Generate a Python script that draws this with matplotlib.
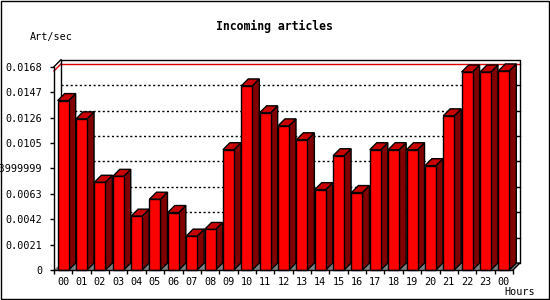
import matplotlib
matplotlib.use("Agg")
import matplotlib.pyplot as plt
from matplotlib.patches import Polygon, Rectangle
from matplotlib.lines import Line2D
import numpy as np

hours = ["00", "01", "02", "03", "04", "05", "06", "07", "08", "09", "10", "11",
         "12", "13", "14", "15", "16", "17", "18", "19", "20", "21", "22", "23", "00"]
values = [0.0140, 0.01249, 0.00725, 0.00774, 0.00445, 0.00585, 0.00475, 0.0028,
          0.00335, 0.00994, 0.01521, 0.01299, 0.01191, 0.01076, 0.00664, 0.00944,
          0.0064, 0.00994, 0.00994, 0.00994, 0.00862, 0.01274, 0.01636, 0.01636,
          0.01645]
ytick_vals = [0, 0.0021, 0.0042, 0.0063, 0.0084, 0.0105, 0.0126, 0.0147, 0.0168]
ytick_labels = ["0", "0.0021", "0.0042", "0.0063", "0.0083999999", "0.0105",
                "0.0126", "0.0147", "0.0168"]
title = "Incoming articles"
ylabel = "Art/sec"
xlabel = "Hours"

W, H = 550, 300
fig = plt.figure(figsize=(5.5, 3.0), dpi=100)
fig.patch.set_facecolor("white")
mono = "DejaVu Sans Mono"

# front frame in pixels: left 54, right 513, bottom 270, top 66.7
ax = fig.add_axes([54 / W, (H - 270) / H, (513 - 54) / W, (270 - 66.7) / H])
ax.set_facecolor("none")
n = len(values)
ax.set_xlim(-0.5, n - 0.5)
ax.set_ylim(0, ytick_vals[-1])

# depth in data units (7 px)
p0 = ax.transData.transform((0, 0))
p1 = ax.transData.transform((1, 0.001))
ddx = 7 / (p1[0] - p0[0])
ddy = 7 / ((p1[1] - p0[1]) / 0.001)

x0, x1 = -0.5, n - 0.5
ymax = ytick_vals[-1]
lw = 1.0

# floor
ax.add_patch(Polygon([(x0, 0), (x1, 0), (x1 + ddx, ddy), (x0 + ddx, ddy)],
                     closed=True, facecolor="#808080", edgecolor="none",
                     clip_on=False, zorder=1))
# dotted gridlines on back wall
for v in ytick_vals[1:-1]:
    ax.add_line(Line2D([x0 + ddx, x1 + ddx], [v + ddy, v + ddy], color="black",
                       lw=1, linestyle=(0, (1.5, 1.8)), clip_on=False, zorder=1.5))
    ax.add_line(Line2D([x1 + ddx - 0.17, x1 + ddx], [v + ddy, v + ddy],
                       color="black", lw=1, clip_on=False, zorder=1.5))
# max line (red) on back wall and left wall
vmax = max(values)
ax.add_line(Line2D([x0 + ddx, x1 + ddx], [vmax + ddy, vmax + ddy], color="#dd0000",
                   lw=1, clip_on=False, zorder=1.6))
ax.add_line(Line2D([x0, x0 + ddx], [vmax, vmax + ddy], color="#dd0000",
                   lw=1, clip_on=False, zorder=1.6))
# back wall outline
ax.add_line(Line2D([x0 + ddx, x0 + ddx, x1 + ddx, x1 + ddx],
                   [ddy, ymax + ddy, ymax + ddy, ddy], color="black", lw=lw,
                   clip_on=False, zorder=1.7))
ax.add_line(Line2D([x0 + ddx, x1 + ddx, x1], [ddy, ddy, 0], color="black", lw=lw,
                   clip_on=False, zorder=1.7))
ax.add_line(Line2D([x0, x0 + ddx], [ymax, ymax + ddy], color="black", lw=lw,
                   clip_on=False, zorder=1.7))

# bars
bw = 0.6
xs = np.arange(n)
for i, v in enumerate(values):
    l, r = xs[i] - bw / 2, xs[i] + bw / 2
    ax.add_patch(Polygon([(r, 0), (r + ddx, ddy), (r + ddx, v + ddy), (r, v)],
                         closed=True, facecolor="#800000", edgecolor="black",
                         lw=lw, clip_on=False, zorder=3))
    ax.add_patch(Polygon([(l, v), (r, v), (r + ddx, v + ddy), (l + ddx, v + ddy)],
                         closed=True, facecolor="#c80000", edgecolor="black",
                         lw=lw, clip_on=False, zorder=3))
ax.bar(xs, values, width=bw, color="#ff0000", edgecolor="black", linewidth=lw,
       zorder=4, clip_on=False)

# spines
for s in ["top", "right"]:
    ax.spines[s].set_visible(False)
for s in ["left", "bottom"]:
    ax.spines[s].set_linewidth(lw)
    ax.spines[s].set_zorder(5)

ax.set_yticks(ytick_vals)
ax.set_yticklabels(ytick_labels, fontfamily=mono, fontsize=7.3)
ax.set_xticks(xs)
ax.set_xticklabels(hours, fontfamily=mono, fontsize=7.3)
ax.set_xticks(np.arange(-0.5, n, 1.0), minor=True)
ax.tick_params(axis="y", direction="out", length=3, width=1, pad=5.5)
ax.tick_params(axis="x", which="major", length=0, pad=5)
ax.tick_params(axis="x", which="minor", direction="out", length=3, width=1)

fig.text(274 / W, 1 - 26.7 / H, title, ha="center", va="center",
         fontfamily=mono, fontweight="bold", fontsize=8.3)
fig.text(30 / W, 1 - 37 / H, ylabel, ha="left", va="center",
         fontfamily=mono, fontsize=7.3)
fig.text(504 / W, 1 - 292 / H, xlabel, ha="left", va="center",
         fontfamily=mono, fontsize=7.3)

# figure border
fig.add_artist(Rectangle((0.5 / W, 1 - 298.5 / H), 548 / W, 298 / H,
                         transform=fig.transFigure, fill=False,
                         edgecolor="black", lw=1))

fig.savefig("out.png", dpi=100)
